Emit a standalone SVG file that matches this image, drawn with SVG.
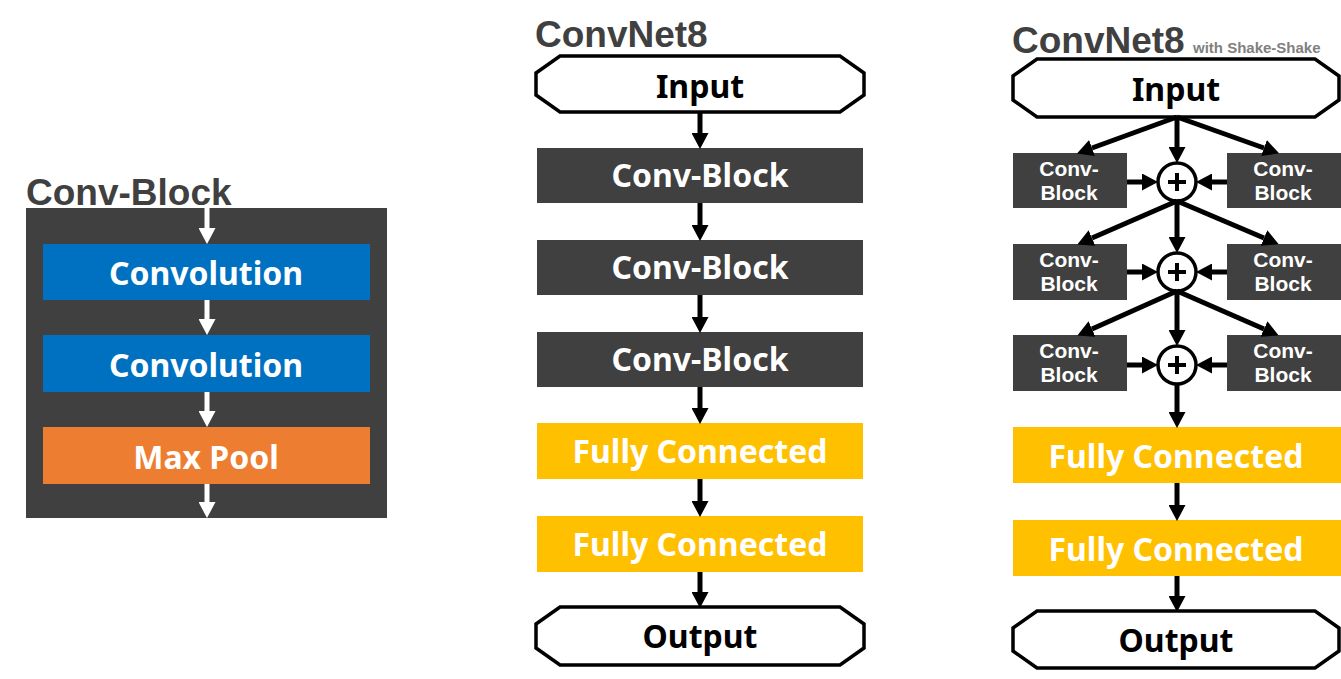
<svg xmlns="http://www.w3.org/2000/svg" width="1341" height="679" viewBox="0 0 1341 679">
<defs>
<style>
.title{font-family:"Liberation Sans",Arial,sans-serif;font-weight:bold;fill:#404040}
.lbl{font-family:"Noto Sans","Open Sans",sans-serif;font-weight:bold;text-anchor:middle}
.sml{font-family:"Liberation Sans",Arial,sans-serif;font-weight:bold;text-anchor:middle;font-size:21px;fill:#fff}
.w{fill:#fff}
.k{fill:#000}
.big{font-size:32px}
.dark{fill:#404040}
.blue{fill:#0070C0}
.orange{fill:#ED7D31}
.yellow{fill:#FFC000}
.oct{fill:#fff;stroke:#000;stroke-width:3.5}
.bl{stroke:#000;stroke-width:5;fill:none}
.wl{stroke:#fff;stroke-width:5;fill:none}
.sum{fill:#fff;stroke:#000;stroke-width:3.5}
.plus{stroke:#000;stroke-width:4}
</style>
<marker id="ak" viewBox="0 0 16 17" refX="0" refY="8.5" markerWidth="16" markerHeight="17" markerUnits="userSpaceOnUse" orient="auto"><path d="M0,0 L16,8.5 L0,17 z" fill="#000"/></marker>
<marker id="aw" viewBox="0 0 16 17" refX="0" refY="8.5" markerWidth="16" markerHeight="17" markerUnits="userSpaceOnUse" orient="auto"><path d="M0,0 L16,8.5 L0,17 z" fill="#fff"/></marker>
</defs>
<rect width="1341" height="679" fill="#fff"/>

<!-- Left: Conv-Block detail -->
<g id="convblock-panel">
<text class="title" x="26" y="205" font-size="37">Conv-Block</text>
<rect class="dark" x="26" y="208" width="361" height="310"/>
</g>
<g id="lb-conv1"><rect class="blue" x="43" y="244" width="327" height="56"/><text class="lbl w big" x="206" y="285">Convolution</text></g>
<g id="lb-conv2"><rect class="blue" x="43" y="335" width="327" height="57"/><text class="lbl w big" x="206" y="377">Convolution</text></g>
<g id="lb-pool"><rect class="orange" x="43" y="427" width="327" height="57"/><text class="lbl w big" x="206" y="469">Max Pool</text></g>

<!-- Middle: ConvNet8 -->
<text class="title" x="535" y="47" font-size="37">ConvNet8</text>
<g id="m-input"><path class="oct" d="M560,56 L840,56 L864,73 L864,95 L840,112 L560,112 L536,95 L536,73 Z"/><text class="lbl k big" x="700" y="98">Input</text></g>
<g id="m-cb1"><rect class="dark" x="537" y="148" width="326" height="55"/><text class="lbl w big" x="700" y="187">Conv-Block</text></g>
<g id="m-cb2"><rect class="dark" x="537" y="240" width="326" height="55"/><text class="lbl w big" x="700" y="279">Conv-Block</text></g>
<g id="m-cb3"><rect class="dark" x="537" y="332" width="326" height="55"/><text class="lbl w big" x="700" y="371">Conv-Block</text></g>
<g id="m-fc1"><rect class="yellow" x="537" y="423" width="326" height="56"/><text class="lbl w big" x="700" y="463">Fully Connected</text></g>
<g id="m-fc2"><rect class="yellow" x="537" y="516" width="326" height="56"/><text class="lbl w big" x="700" y="556">Fully Connected</text></g>
<g id="m-output"><path class="oct" d="M560,607 L840,607 L864,624 L864,648 L840,665 L560,665 L536,648 L536,624 Z"/><text class="lbl k big" x="700" y="648">Output</text></g>

<!-- Right: ConvNet8 with Shake-Shake -->
<text class="title" x="1012" y="53" font-size="37">ConvNet8</text>
<text class="title" x="1193" y="53" font-size="15" style="fill:#808080">with Shake-Shake</text>
<g id="r-input"><path class="oct" d="M1037,59 L1315,59 L1339,76 L1339,100 L1315,117 L1037,117 L1013,100 L1013,76 Z"/><text class="lbl k big" x="1176" y="101">Input</text></g>

<g id="r-l1"><rect class="dark" x="1013" y="153" width="114" height="55"/><text class="sml" x="1069" y="176">Conv-</text><text class="sml" x="1069" y="200">Block</text></g>
<g id="r-r1"><rect class="dark" x="1227" y="153" width="114" height="55"/><text class="sml" x="1283" y="176">Conv-</text><text class="sml" x="1283" y="200">Block</text></g>
<g id="r-s1"><circle class="sum" cx="1177" cy="182" r="19"/><path class="plus" d="M1168,182 H1186 M1177,173 V191"/></g>

<g id="r-l2"><rect class="dark" x="1013" y="244" width="114" height="56"/><text class="sml" x="1069" y="267">Conv-</text><text class="sml" x="1069" y="291">Block</text></g>
<g id="r-r2"><rect class="dark" x="1227" y="244" width="114" height="56"/><text class="sml" x="1283" y="267">Conv-</text><text class="sml" x="1283" y="291">Block</text></g>
<g id="r-s2"><circle class="sum" cx="1177" cy="272" r="19"/><path class="plus" d="M1168,272 H1186 M1177,263 V281"/></g>

<g id="r-l3"><rect class="dark" x="1013" y="335" width="114" height="56"/><text class="sml" x="1069" y="358">Conv-</text><text class="sml" x="1069" y="382">Block</text></g>
<g id="r-r3"><rect class="dark" x="1227" y="335" width="114" height="56"/><text class="sml" x="1283" y="358">Conv-</text><text class="sml" x="1283" y="382">Block</text></g>
<g id="r-s3"><circle class="sum" cx="1177" cy="365" r="19"/><path class="plus" d="M1168,365 H1186 M1177,356 V374"/></g>

<g id="r-fc1"><rect class="yellow" x="1013" y="427" width="328" height="56"/><text class="lbl w big" x="1176" y="468">Fully Connected</text></g>
<g id="r-fc2"><rect class="yellow" x="1013" y="520" width="328" height="56"/><text class="lbl w big" x="1176" y="561">Fully Connected</text></g>
<g id="r-output"><path class="oct" d="M1037,611 L1315,611 L1339,628 L1339,651 L1315,668 L1037,668 L1013,651 L1013,628 Z"/><text class="lbl k big" x="1176" y="652">Output</text></g>

<g id="connectors">
<!-- left white -->
<line class="wl" x1="207" y1="208" x2="207" y2="228" marker-end="url(#aw)"/>
<line class="wl" x1="207" y1="300" x2="207" y2="319" marker-end="url(#aw)"/>
<line class="wl" x1="207" y1="392" x2="207" y2="411" marker-end="url(#aw)"/>
<line class="wl" x1="207" y1="484" x2="207" y2="502" marker-end="url(#aw)"/>
<!-- middle -->
<line class="bl" x1="700" y1="112" x2="700" y2="133" marker-end="url(#ak)"/>
<line class="bl" x1="700" y1="203" x2="700" y2="225" marker-end="url(#ak)"/>
<line class="bl" x1="700" y1="295" x2="700" y2="317" marker-end="url(#ak)"/>
<line class="bl" x1="700" y1="387" x2="700" y2="408" marker-end="url(#ak)"/>
<line class="bl" x1="700" y1="479" x2="700" y2="501" marker-end="url(#ak)"/>
<line class="bl" x1="700" y1="572" x2="700" y2="592" marker-end="url(#ak)"/>
<!-- right -->
<line class="bl" x1="1177" y1="117" x2="1092" y2="148" marker-end="url(#ak)"/>
<line class="bl" x1="1177" y1="117" x2="1264" y2="148" marker-end="url(#ak)"/>
<line class="bl" x1="1177" y1="117" x2="1177" y2="147" marker-end="url(#ak)"/>
<line class="bl" x1="1127" y1="182" x2="1142" y2="182" marker-end="url(#ak)"/>
<line class="bl" x1="1227" y1="182" x2="1212" y2="182" marker-end="url(#ak)"/>

<line class="bl" x1="1177" y1="201" x2="1092" y2="238" marker-end="url(#ak)"/>
<line class="bl" x1="1177" y1="201" x2="1264" y2="238" marker-end="url(#ak)"/>
<line class="bl" x1="1177" y1="201" x2="1177" y2="237" marker-end="url(#ak)"/>
<line class="bl" x1="1127" y1="272" x2="1142" y2="272" marker-end="url(#ak)"/>
<line class="bl" x1="1227" y1="272" x2="1212" y2="272" marker-end="url(#ak)"/>

<line class="bl" x1="1177" y1="291" x2="1092" y2="329" marker-end="url(#ak)"/>
<line class="bl" x1="1177" y1="291" x2="1264" y2="329" marker-end="url(#ak)"/>
<line class="bl" x1="1177" y1="291" x2="1177" y2="330" marker-end="url(#ak)"/>
<line class="bl" x1="1127" y1="365" x2="1142" y2="365" marker-end="url(#ak)"/>
<line class="bl" x1="1227" y1="365" x2="1212" y2="365" marker-end="url(#ak)"/>

<line class="bl" x1="1177" y1="384" x2="1177" y2="412" marker-end="url(#ak)"/>
<line class="bl" x1="1177" y1="483" x2="1177" y2="505" marker-end="url(#ak)"/>
<line class="bl" x1="1177" y1="576" x2="1177" y2="596" marker-end="url(#ak)"/>
</g>
</svg>
